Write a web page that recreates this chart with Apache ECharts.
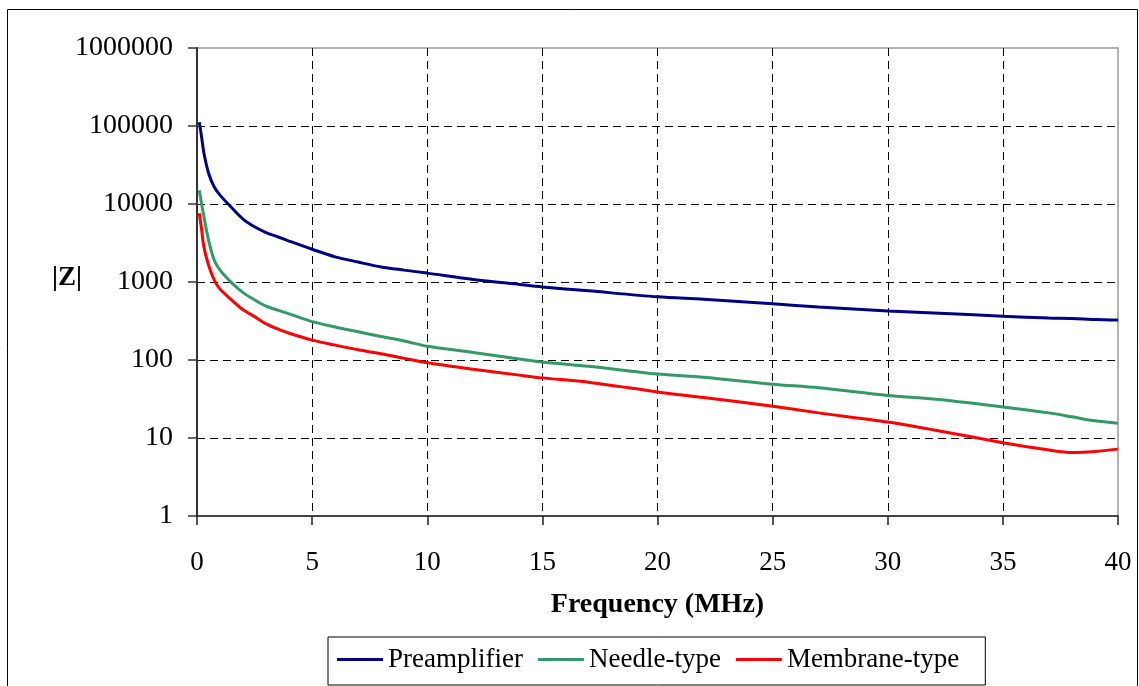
<!DOCTYPE html>
<html>
<head>
<meta charset="utf-8">
<script src="https://cdn.jsdelivr.net/npm/echarts@6/dist/echarts.min.js"></script>
<style>
html,body{margin:0;padding:0;background:#fff;}
#c{width:1139px;height:686px;}
</style>
</head>
<body>
<div id="c"></div>
<script>
var freq = [0.1,0.2,0.3,0.5,0.75,1,1.5,2,2.5,3,3.5,4,5,6,7,8,9,10,12,14,15,17,20,22,25,27,30,32,35,37,38,39,40];
var preamp = [112000,72000,45000,25000,16500,13000,9000,6400,5100,4300,3800,3350,2630,2100,1800,1560,1420,1300,1080,930,865,770,645,600,525,478,425,400,365,345,340,330,325];
var needle = [15000,10000,6900,3450,1900,1420,980,730,590,490,435,390,310,265,230,200,175,150,125,103,94,83,66,60,49,44,35,31.6,25,21,18.7,16.6,15.5];
var membrane = [7600,4700,2800,1650,1060,810,590,440,360,290,250,220,180,155,135,120,105,92,76,64,59,52,39,33,25.5,21,16,12.7,8.7,7.0,6.5,6.7,7.2];
var seriesNames = ['Preamplifier','Needle-type','Membrane-type'];
var yTicks = [1,10,100,1000,10000,100000,1000000];

function pairs(vals){ return freq.map(function(f,i){ return [f, vals[i]]; }); }

var chart = echarts.init(document.getElementById('c'), null, {renderer:'canvas'});
var serif = '"Liberation Serif", "DejaVu Serif", serif';
chart.setOption({
  animation:false,
  backgroundColor:'#fff',
  graphic:[{
    type:'rect', shape:{x:7.5,y:9.5,width:1130,height:700},
    style:{fill:'none',stroke:'#000',lineWidth:1}, z:-1
  },{
    type:'text', left:52, top:265,
    style:{text:'|Z|', font:'bold 27px '+serif, fill:'#000'}
  }],
  grid:{left:197,right:21,top:48,bottom:170,show:true,borderColor:'#999',borderWidth:1.5,backgroundColor:'#fff'},
  legend:{
    data:seriesNames,
    left:328, top:637,
    padding:[9,26,12,9],
    itemWidth:46, itemHeight:3, itemGap:15,
    icon:'rect',
    borderColor:'#000', borderWidth:1,
    textStyle:{fontFamily:serif,fontSize:27,color:'#000'}
  },
  xAxis:{
    type:'value', min:0, max:40, interval:5,
    name:'Frequency (MHz)', nameLocation:'middle', nameGap:75,
    nameTextStyle:{fontFamily:serif,fontSize:28,fontWeight:'bold',color:'#000'},
    axisLine:{show:true,lineStyle:{color:'#222',width:1.5}},
    axisTick:{show:true,inside:false,length:9,lineStyle:{color:'#222',width:1.5}},
    axisLabel:{fontFamily:serif,fontSize:27,color:'#000',margin:33},
    splitLine:{show:true,showMinLine:false,showMaxLine:false,lineStyle:{color:'#000',type:[8,5],width:1}}
  },
  yAxis:{
    type:'log', logBase:10, min:1, max:1000000,
    axisLine:{show:true,lineStyle:{color:'#333',width:2}},
    axisTick:{show:true,inside:false,length:9,lineStyle:{color:'#333',width:1.5}},
    axisLabel:{fontFamily:serif,fontSize:28,color:'#000',margin:24,
      formatter:function(v){ var r = yTicks.filter(function(t){return Math.abs(t-v)/t<1e-6;}); return r.length? String(r[0]) : String(Math.round(v)); }},
    splitLine:{show:true,showMinLine:false,showMaxLine:false,lineStyle:{color:'#000',type:[8,5],width:1}}
  },
  series:[
    {name:seriesNames[0],type:'line',data:pairs(preamp),showSymbol:false,smooth:0.3,lineStyle:{color:'#000080',width:3},itemStyle:{color:'#000080'}},
    {name:seriesNames[1],type:'line',data:pairs(needle),showSymbol:false,smooth:0.3,lineStyle:{color:'#339966',width:3},itemStyle:{color:'#339966'}},
    {name:seriesNames[2],type:'line',data:pairs(membrane),showSymbol:false,smooth:0.3,lineStyle:{color:'#ff0000',width:3},itemStyle:{color:'#ff0000'}}
  ]
});
</script>
</body>
</html>
